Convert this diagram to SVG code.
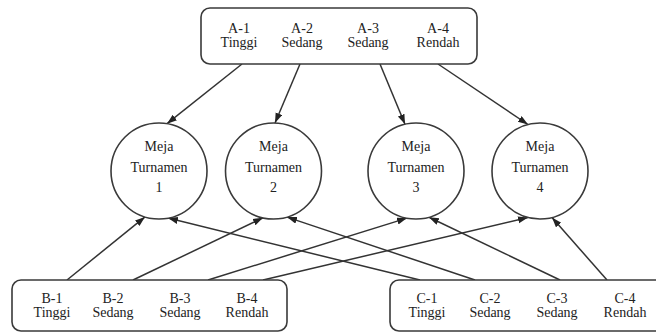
<svg xmlns="http://www.w3.org/2000/svg" width="656" height="333" viewBox="0 0 656 333">
<style>
.box{fill:#fff;stroke:#3a3a3a;stroke-width:1.6}
.node{fill:#fff;stroke:#3a3a3a;stroke-width:1.6}
.edge{fill:none;stroke:#333;stroke-width:1.5;marker-end:url(#ah)}
.t{font-family:'Liberation Serif','Times New Roman',serif;font-size:14px;fill:#222;text-anchor:middle}
</style>
<defs>
<marker id="ah" markerUnits="userSpaceOnUse" markerWidth="11" markerHeight="8" refX="10" refY="3.5" orient="auto">
<path d="M0,0 L10,3.5 L0,7 z" fill="#222"/>
</marker>
</defs>
<rect width="656" height="333" fill="#fff"/>
<g id="connectors">
<line class="edge" x1="242" y1="64" x2="167" y2="123.7"/>
<line class="edge" x1="300" y1="64" x2="275" y2="123"/>
<line class="edge" x1="380" y1="64" x2="405" y2="124.3"/>
<line class="edge" x1="438" y1="64" x2="528" y2="124.5"/>
<line class="edge" x1="67" y1="280" x2="145" y2="216.9"/>
<line class="edge" x1="133" y1="280" x2="263" y2="217.8"/>
<line class="edge" x1="208" y1="280" x2="407" y2="218.1"/>
<line class="edge" x1="263" y1="280" x2="528" y2="217.5"/>
<line class="edge" x1="420" y1="280" x2="168" y2="218.1"/>
<line class="edge" x1="475" y1="280" x2="287" y2="217.1"/>
<line class="edge" x1="560" y1="280" x2="429" y2="217.2"/>
<line class="edge" x1="607" y1="280" x2="552" y2="217.5"/>
</g>
<g id="A" class="t" font-family="Liberation Serif, serif">
<rect class="box" x="201" y="8" width="276" height="56" rx="9"/>
<text x="239" y="33">A-1</text><text x="239" y="47">Tinggi</text>
<text x="302" y="33">A-2</text><text x="302" y="47">Sedang</text>
<text x="368" y="33">A-3</text><text x="368" y="47">Sedang</text>
<text x="438" y="33">A-4</text><text x="438" y="47">Rendah</text>
</g>
<g id="meja1" class="t" font-family="Liberation Serif, serif">
<circle class="node" cx="159" cy="171" r="48"/>
<text x="159" y="151">Meja</text><text x="159" y="171.5">Turnamen</text><text x="159" y="192">1</text>
</g>
<g id="meja2" class="t" font-family="Liberation Serif, serif">
<circle class="node" cx="273.5" cy="171" r="48"/>
<text x="273.5" y="151">Meja</text><text x="273.5" y="171.5">Turnamen</text><text x="273.5" y="192">2</text>
</g>
<g id="meja3" class="t" font-family="Liberation Serif, serif">
<circle class="node" cx="416" cy="171" r="48"/>
<text x="416" y="151">Meja</text><text x="416" y="171.5">Turnamen</text><text x="416" y="192">3</text>
</g>
<g id="meja4" class="t" font-family="Liberation Serif, serif">
<circle class="node" cx="540" cy="171" r="48"/>
<text x="540" y="151">Meja</text><text x="540" y="171.5">Turnamen</text><text x="540" y="192">4</text>
</g>
<g id="B" class="t" font-family="Liberation Serif, serif">
<rect class="box" x="12" y="280" width="275" height="51" rx="9"/>
<text x="52" y="303">B-1</text><text x="52" y="317">Tinggi</text>
<text x="113" y="303">B-2</text><text x="113" y="317">Sedang</text>
<text x="180" y="303">B-3</text><text x="180" y="317">Sedang</text>
<text x="247" y="303">B-4</text><text x="247" y="317">Rendah</text>
</g>
<g id="C" class="t" font-family="Liberation Serif, serif">
<rect class="box" x="390" y="280" width="275" height="51" rx="9"/>
<text x="427" y="303">C-1</text><text x="427" y="317">Tinggi</text>
<text x="490" y="303">C-2</text><text x="490" y="317">Sedang</text>
<text x="557" y="303">C-3</text><text x="557" y="317">Sedang</text>
<text x="625" y="303">C-4</text><text x="625" y="317">Rendah</text>
</g>
</svg>
